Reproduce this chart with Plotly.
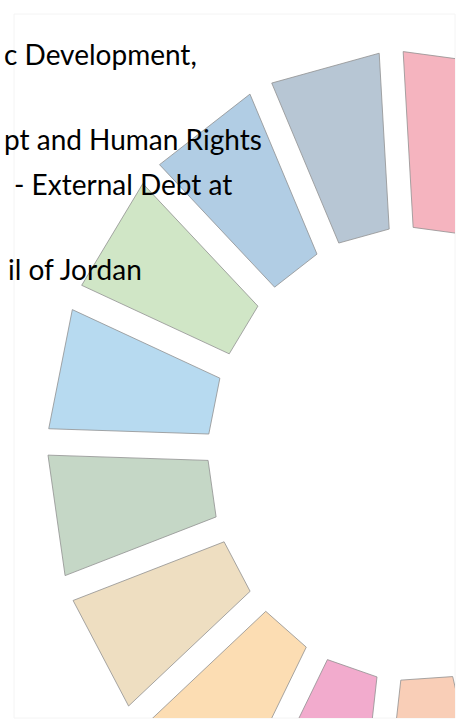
import numpy as np
import plotly.graph_objects as go

# ---- data ----
# visible SDG goals, counter-clockwise from the top
goals = ["Goal 1", "Goal 17", "Goal 16", "Goal 15", "Goal 14",
         "Goal 13", "Goal 12", "Goal 11", "Goal 10", "Goal 9"]
shares = [1, 1, 1, 1, 1, 1, 1, 1, 1, 1]          # each goal = 1/17 of the wheel
total_goals = 17
first_boundary_deg = 72.4                        # start of Goal 1 piece (ccw)
colors = ["#F5B4BF", "#B7C6D4", "#B1CDE4", "#D0E6C6", "#B7DAF0",
          "#C5D7C6", "#EEDEC1", "#FCDDB3", "#F2ABCD", "#F9CEB7"]

text_lines = ["c Development,", "pt and Human Rights",
              "- External Debt at", "il of Jordan"]

# ---- geometry / style ----
R_in, R_out, half_gap = 206.0, 366.0, 12.0
W, H = 458, 724
L, Rm, T, B = 14, 3, 14, 6
pw, ph = W - L - Rm, H - T - B
cx_px, cy_px, ystretch = 414.0, 454.0, 1.10

step = 360.0 / total_goals
bounds = first_boundary_deg + step * np.concatenate([[0], np.cumsum(shares)])

def unit(a):
    r = np.deg2rad(a)
    return np.array([np.cos(r), np.sin(r)])

def piece(a1, a2):
    pts = []
    for a, sgn, rads in ((a1, 1, (R_in, R_out)), (a2, -1, (R_out, R_in))):
        u, n = unit(a), unit(a + 90)
        for R in rads:
            s = np.sqrt(R * R - half_gap * half_gap)
            pts.append(s * u + sgn * half_gap * n)
    pts.append(pts[0])
    pts = np.array(pts)
    return pts[:, 0], pts[:, 1]

fig = go.Figure()
for g, c, a1, a2 in zip(goals, colors, bounds[:-1], bounds[1:]):
    xs, ys = piece(a1, a2)
    fig.add_trace(go.Scatter(x=xs, y=ys, mode="lines", fill="toself",
                             fillcolor=c, name=g, hoverinfo="name",
                             line=dict(color="rgba(145,145,145,0.8)", width=1)))

x_range = [-(cx_px - L), (W - Rm) - cx_px]
y_range = [-((H - B) - cy_px) / ystretch, (cy_px - T) / ystretch]

def px_x(p):
    return (p - L) / pw

def px_y(p):
    return (H - B - p) / ph

fs = 28
baselines = [62, 147, 192, 277]
right_ends = [198, 263, 233, 143]
for t, b, r in zip(text_lines, baselines, right_ends):
    fig.add_annotation(text=t, xref="paper", yref="paper",
                       x=px_x(r), y=px_y(b - 0.3 * fs), xanchor="right",
                       yanchor="middle", showarrow=False, borderpad=0,
                       font=dict(family="Lato", size=fs, color="#000000"))

fig.add_shape(type="rect", xref="paper", yref="paper", x0=0, x1=1, y0=0, y1=1,
              line=dict(color="#F4F4F4", width=1), layer="below")

fig.update_xaxes(range=x_range, visible=False, fixedrange=True)
fig.update_yaxes(range=y_range, visible=False, fixedrange=True)
fig.update_layout(width=W, height=H, margin=dict(l=L, r=Rm, t=T, b=B, pad=0),
                  showlegend=False, plot_bgcolor="white", paper_bgcolor="white")

fig.write_html("out.html", config={"displayModeBar": False},
               post_script="document.body.style.margin='0px';")
